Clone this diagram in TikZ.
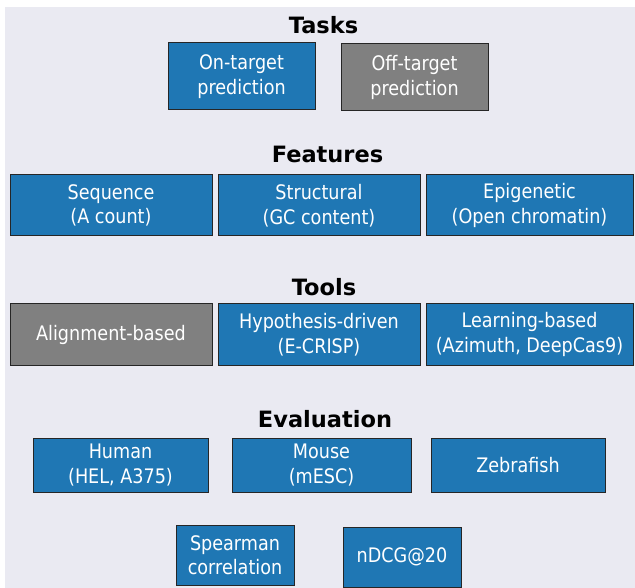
\documentclass[tikz,border=0pt]{standalone}
\usepackage{fontspec}
\setmainfont{DejaVu Sans}
\newfontfamily\boxfont{DejaVu Sans}[FakeStretch=0.88]
\definecolor{panelbg}{HTML}{EAEAF2}
\definecolor{boxblue}{HTML}{1F77B4}
\definecolor{boxgrey}{HTML}{808080}

\begin{document}
\begin{tikzpicture}[x=1pt,y=-1pt]
    \tikzset{block/.style={draw=black!85, line width=1pt, fill=boxblue, text=white,
        align=center, inner sep=0pt, font=\boxfont\fontsize{20}{24.5}\selectfont}}
    \tikzset{greyblock/.style={block, fill=boxgrey}}
    \tikzset{boxsize/.style 2 args={minimum width=#1pt, minimum height=#2pt}}
    \tikzset{heading/.style={anchor=base, font=\bfseries\fontsize{22.5}{27}\selectfont}}
    % \tikzset{block/.append style={rounded corners=1pt}}
    \useasboundingbox (0,0) rectangle (635,588);
    \fill[panelbg] (5,7) rectangle (635,588);

    \node[heading] (tasks) at (323.5,33.3) {Tasks};
    \node[block, boxsize={147}{67}] (ontarget) at (241.5,76.5) {On-target\\prediction};
    \node[greyblock, boxsize={147}{67}] (offtarget) at (414.5,77.5) {Off-target\\prediction};

    \node[heading] (features) at (327.5,162.3) {Features};
    \node[block, boxsize={202}{61}] (sequence) at (111,205.5) {Sequence\\(A count)};
    \node[block, boxsize={202}{61}] (structural) at (319,205.5) {Structural\\(GC content)};
    \node[block, boxsize={207}{61}] (epigenetic) at (529.5,205.5) {Epigenetic\\(Open chromatin)};

    \node[heading] (tools) at (324,295.3) {Tools};
    \node[greyblock, boxsize={202}{61}] (alignment) at (111,334.5) {Alignment-based};
    \node[block, boxsize={202}{61}] (hypothesis) at (319,334.5) {Hypothesis-driven\\(E-CRISP)};
    \node[block, boxsize={207}{61}] (learning) at (529.5,334.5) {Learning-based\\(Azimuth, DeepCas9)};

    \node[heading] (evaluation) at (325,427.3) {Evaluation};
    \node[block, boxsize={175}{54}] (human) at (120.5,465) {Human\\(HEL, A375)};
    \node[block, boxsize={179}{54}] (mouse) at (321.5,465) {Mouse\\(mESC)};
    \node[block, boxsize={174}{54}] (zebrafish) at (518,465) {Zebrafish};
    \node[block, boxsize={118}{60}] (spearman) at (235,555) {Spearman\\correlation};
    \node[block, boxsize={118}{60}] (ndcg) at (402,557) {nDCG@20};
\end{tikzpicture}
\end{document}
